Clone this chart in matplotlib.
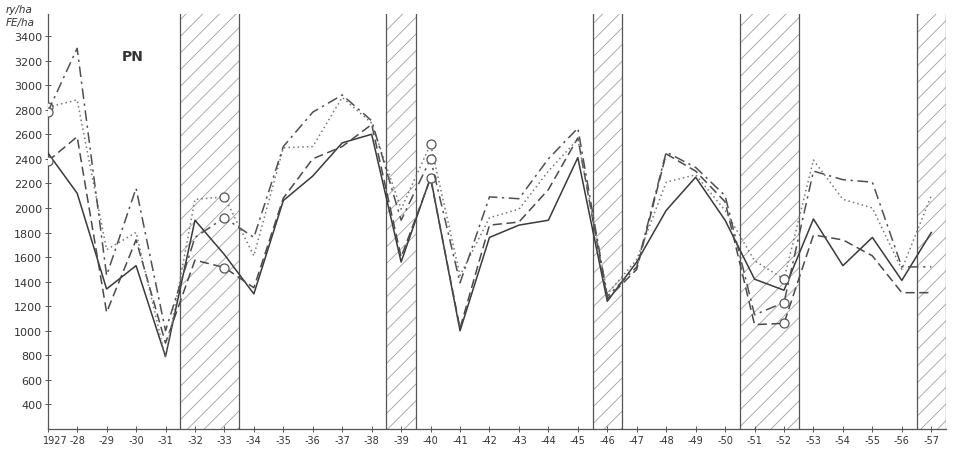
import matplotlib
matplotlib.use("Agg")
import matplotlib.pyplot as plt

years = list(range(1927, 1958))
tick_labels = ["1927"] + ["-%02d" % (y % 100) for y in range(1928, 1958)]

solid = [2450, 2120, 1340, 1530, 790, 1900, 1620, 1300, 2060, 2260, 2530, 2600, 1560,
         2250, 1000, 1760, 1860, 1900, 2410, 1240, 1560, 1980, 2250, 1900, 1420, 1330,
         1910, 1530, 1760, 1410, 1800]
dashed = [2380, 2580, 1150, 1740, 900, 1575, 1515, 1350, 2080, 2400, 2500, 2680, 1600,
          2240, 1020, 1860, 1885, 2150, 2570, 1260, 1500, 2440, 2300, 2050, 1050, 1060,
          1780, 1740, 1610, 1310, 1310]
dotted = [2820, 2880, 1660, 1800, 780, 2070, 2090, 1610, 2490, 2500, 2900, 2690, 1990,
          2520, 1450, 1920, 1990, 2300, 2560, 1300, 1580, 2210, 2270, 1980, 1570, 1420,
          2390, 2070, 2000, 1500, 2100]
dashdot = [2780, 3300, 1450, 2160, 1000, 1760, 1920, 1760, 2500, 2780, 2920, 2710, 1900,
           2400, 1390, 2090, 2075, 2400, 2650, 1280, 1520, 2455, 2330, 2100, 1130, 1230,
           2300, 2230, 2210, 1520, 1520]
circle_years = [1927, 1933, 1940, 1952]
hatch_bands = [(1931.5, 1933.5), (1938.5, 1939.5), (1945.5, 1946.5),
               (1950.5, 1952.5), (1956.5, 1957.5)]
yticks = list(range(400, 3401, 200))

fig = plt.figure(figsize=(9.54, 4.52), dpi=100)
ax = fig.add_axes([0.05, 0.0487, 0.9416, 0.9183])
ax.set_xlim(1927, 1957.5)
ax.set_ylim(200, 3580)

plt.rcParams['hatch.linewidth'] = 0.6
for x0, x1 in hatch_bands:
    ax.axvspan(x0, x1, facecolor='none', edgecolor='#a0a0a0', hatch='//', linewidth=0, zorder=1)
    ax.axvline(x0, color='#555555', lw=0.9, zorder=2)
    ax.axvline(x1, color='#555555', lw=0.9, zorder=2)

mk = [years.index(y) for y in circle_years]
ax.plot(years, solid, color='#3a3a3a', lw=1.1, ls='-', zorder=3)
ax.plot(years, dashed, color='#4a4a4a', lw=1.1, ls=(0, (6, 3)), zorder=3,
        marker='o', markevery=mk, ms=6.5, mfc='white', mec='#555555', mew=0.9)
ax.plot(years, dotted, color='#777777', lw=1.1, ls=(0, (1, 2)), zorder=3,
        marker='o', markevery=mk, ms=6.5, mfc='white', mec='#555555', mew=0.9)
ax.plot(years, dashdot, color='#505050', lw=1.1, ls=(0, (7, 3, 1.5, 3)), zorder=3,
        marker='o', markevery=mk, ms=6.5, mfc='white', mec='#555555', mew=0.9)

for s in ['top', 'right']:
    ax.spines[s].set_visible(False)
for s in ['left', 'bottom']:
    ax.spines[s].set_color('#555555')
    ax.spines[s].set_linewidth(0.9)

ax.set_yticks(yticks)
ax.set_yticklabels([str(v) for v in yticks], fontsize=8, color='#333333')
ax.set_xticks(years)
ax.set_xticklabels([""] + tick_labels[1:], fontsize=7, color='#333333')
ax.tick_params(axis='both', direction='inout', length=4, width=0.7, color='#555555')
ax.tick_params(axis='x', pad=2)
ax.tick_params(axis='y', pad=2)
ax.annotate(tick_labels[0], xy=(years[0], 0), xycoords=ax.get_xaxis_transform(),
            xytext=(-3.5, -4), textcoords='offset points', ha='left', va='top',
            fontsize=7, color='#333333', annotation_clip=False)

fig.text(0.006, 0.978, "ry/ha", fontsize=7.5, style='italic', color='#333333', va='center')
fig.text(0.006, 0.950, "FE/ha", fontsize=7.5, style='italic', color='#333333', va='center')
ax.text(0.139, 0.874, "PN", transform=fig.transFigure, fontsize=10, fontweight='bold',
        color='#333333', ha='center', va='center')

fig.savefig("out.png", dpi=100)
